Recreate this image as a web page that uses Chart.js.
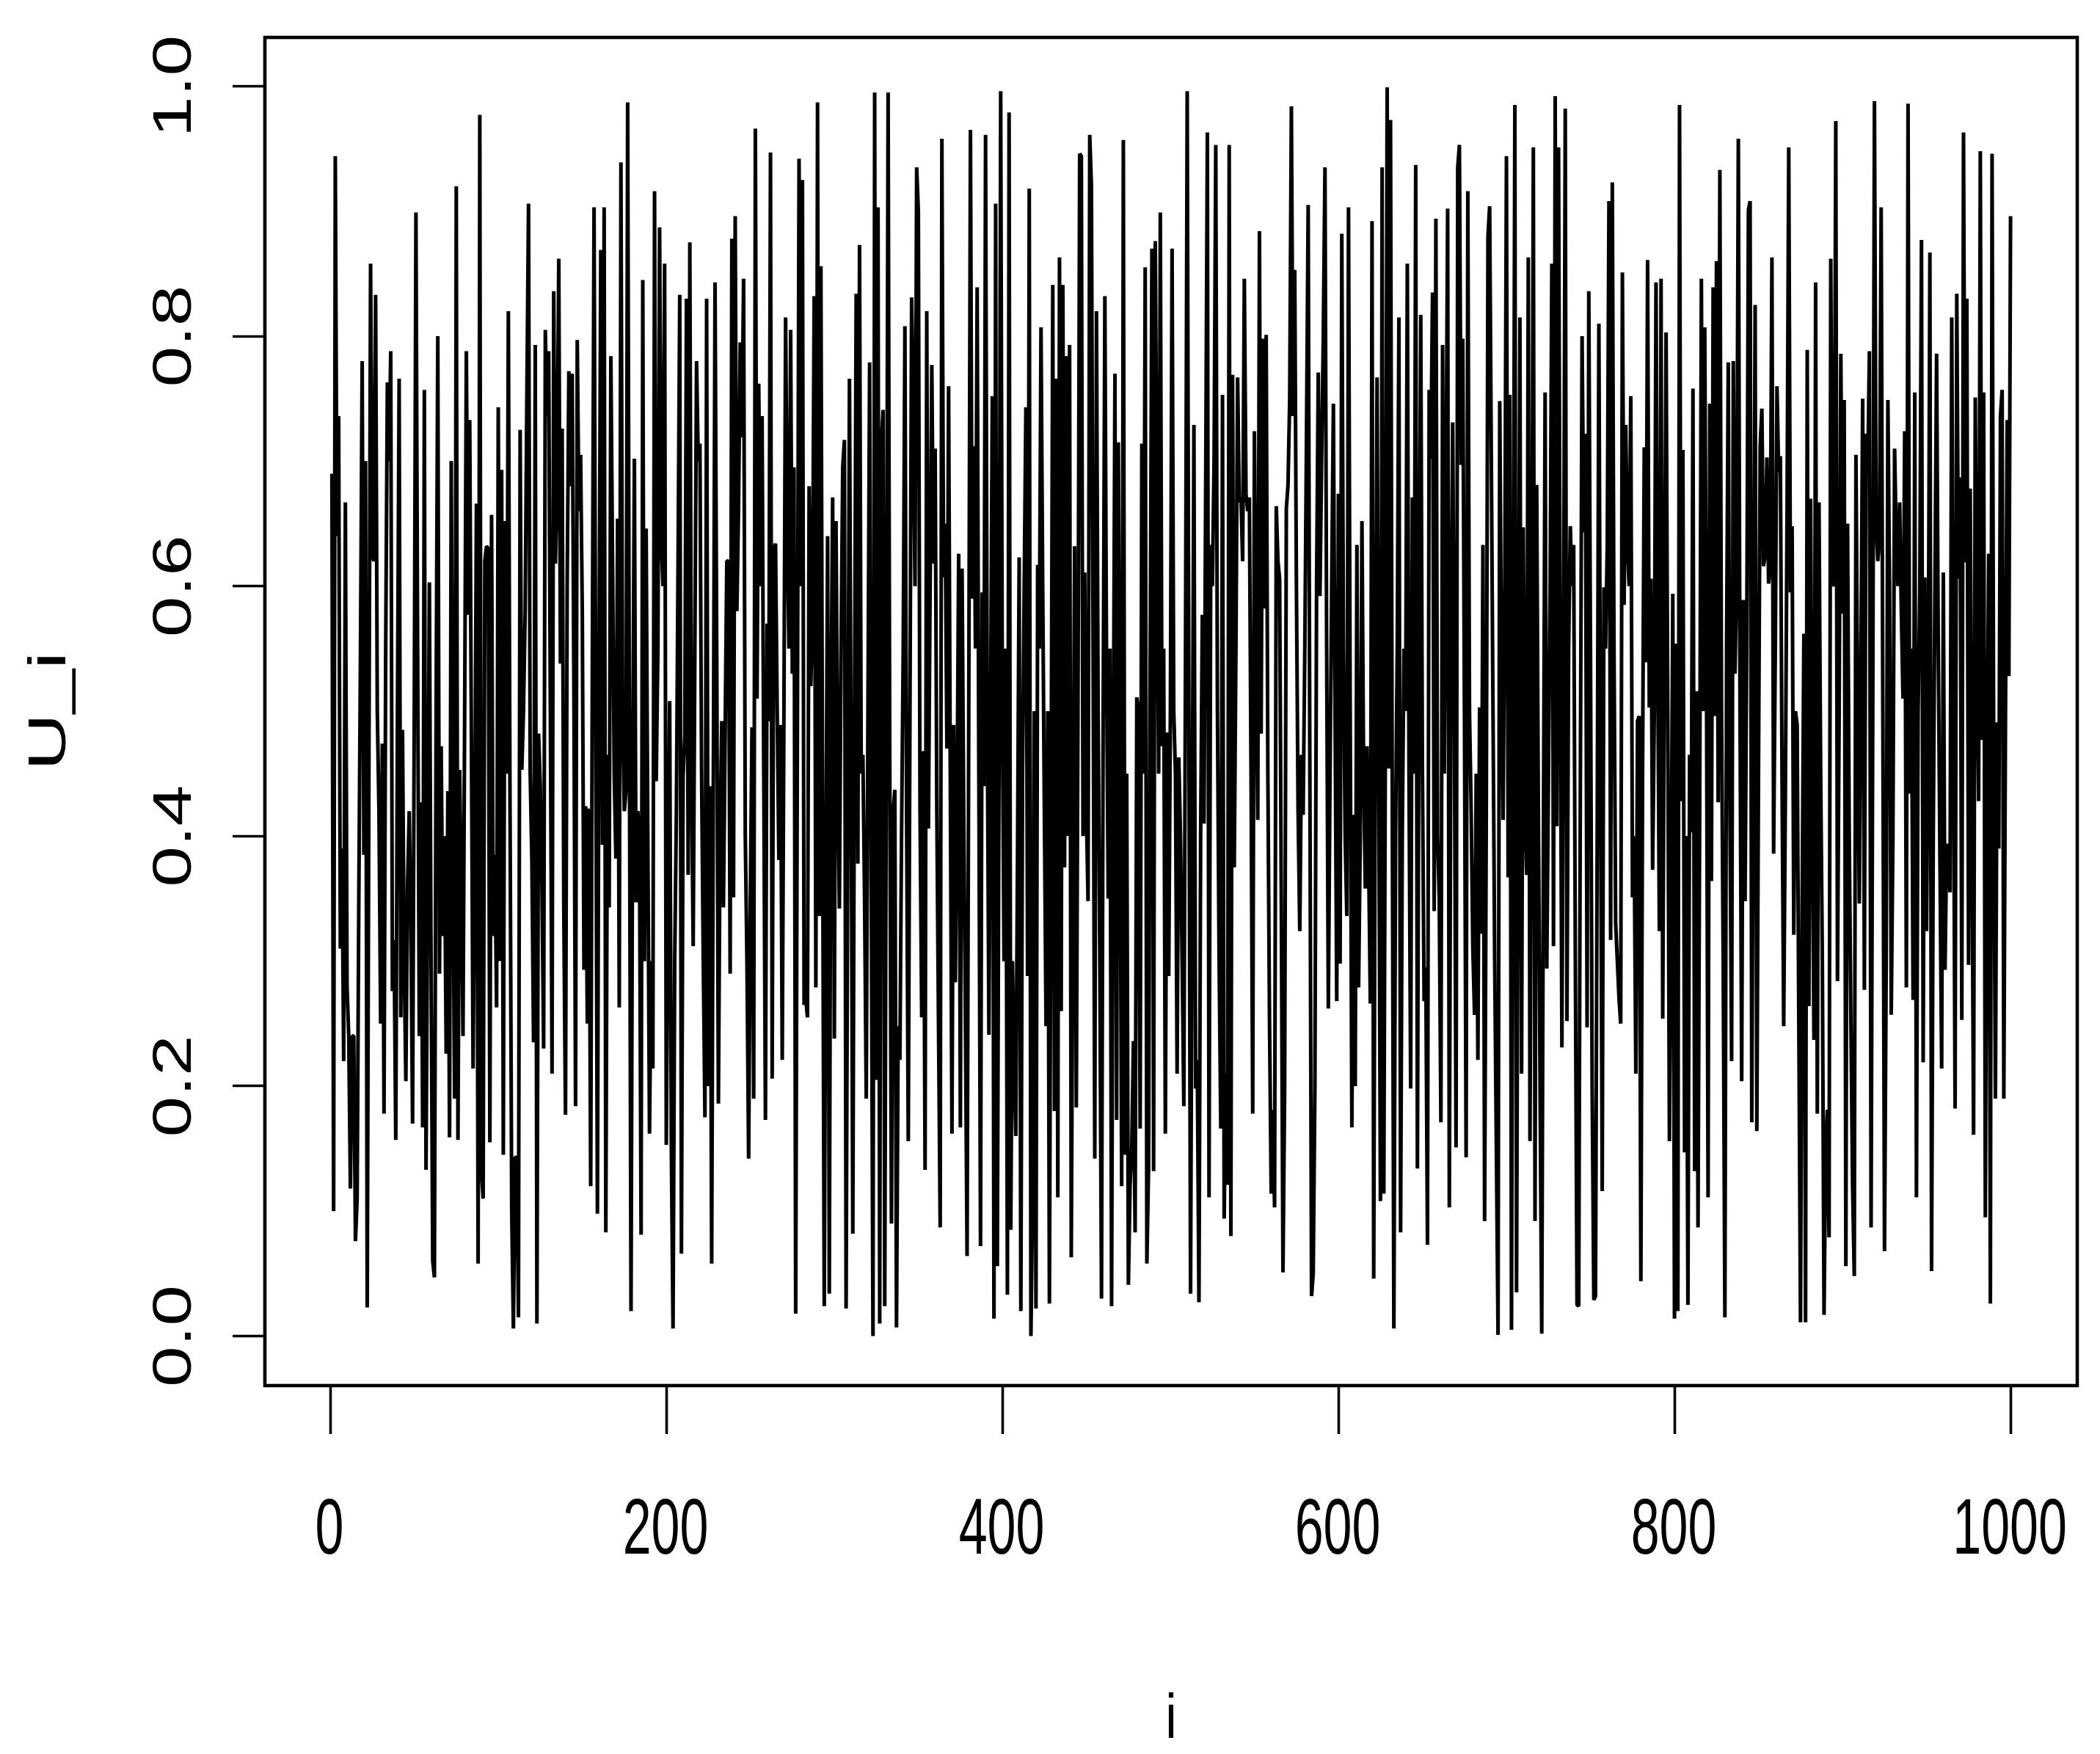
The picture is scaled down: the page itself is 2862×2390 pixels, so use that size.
<!DOCTYPE html>
<html><head><meta charset="utf-8">
<style>html,body{margin:0;padding:0;background:#fff}canvas{display:block}</style>
<script src="https://cdn.jsdelivr.net/npm/chart.js@4/dist/chart.umd.min.js"></script>
</head><body><canvas id="c" width="2862" height="2390"></canvas>
<script>
const xTickValues=[0,200,400,600,800,1000];
const yTickValues=[0,0.2,0.4,0.6,0.8,1];
const xTitle="i", yTitle="U_i";
const i1=[1,2,3,4,5,6,7,8,9,10,12,13,14,15,16,19,20,21,22,24,25,26,27,30,31,32,34,35,36,37,38,39,41,42,43,45,47,49,51,53,54,55,56,57,59,62,64,65,66,67,68,69,70,71,72,74,75,76,77,79,81,82,83,85,87,88,89,90,91,93,94,95,96,97,98,99,100,101,102,103,104,106,109,110,111,112,113,114,118,121,122,123,124,127,128,129,130,132,133,134,136,137,138,140,142,143,144,146,147,148,149,151,152,153,154,155,157,159,161,162,163,164,165,166,167,170,171,172,173,176,177,179,181,182,184,185,186,187,188,190,192,193,194,196,197,199,200,202,204,208,209,210,212,213,214,216,218,219,220,223,224,225,226,227,229,231];
const u1=[.69,.10,.944,.64,.736,.31,.39,.22,.667,.28,.118,.24,.24,.076,.11,.78,.385,.70,.023,.858,.625,.62,.833,.25,.474,.178,.763,.70,.788,.276,.317,.157,.766,.255,.485,.204,.42,.17,.899,.24,.427,.167,.757,.133,.603,.047,.80,.29,.472,.32,.40,.226,.436,.159,.70,.19,.92,.157,.453,.24,.788,.577,.733,.214,.666,.058,.977,.13,.11,.632,.63,.155,.657,.32,.385,.263,.743,.30,.693,.145,.652,.82,.006,.143,.143,.015,.725,.453,.906,.235,.793,.01,.482,.23,.805,.736,.788,.21,.836,.618,.862,.538,.726,.177,.772,.68,.77,.184,.797,.66,.705,.293,.424,.25,.422,.12,.903,.098,.869,.393,.903,.083,.465,.343,.784,.382,.654,.263,.939,.436,.987,.02,.702,.347,.405,.081,.845,.30,.646,.162,.214,.916,.444,.887,.637,.858,.153,.508,.006,.833,.066,.448,.83,.369,.875,.312,.78,.70,.714,.175,.83,.2,.44,.058,.843,.186];
const i2=[233,234,236,237,238,239,240,241,243,244,245,246,249,251,252,253,254,255,257,259,260,261,262,263,264,265,267,268,269,271,272,274,275,276,277,279,281,282,284,285,287,288,289,290,291,292,294,296,297,299,300,301,303,305,306,307,309,311,313,314,315,317,319,321,323,324,325,326,327,328,329,330,332,334,336,337,338,339,342,344,346,347,349,350,352,353,354,355,356,358,359,360,363,364,365,366,367,368,370,371,372,374,375,376,378,379,381,382,383,385,387,388,389,390,392,394,395,396,397,399,403,404,405,408,410,411,414,415,416,417,418,420,421,423,426,428,430,431,432,433,434,435,436,437,438,440,441,443,444,446,447,448,449,451,452,453,455,456,459,461,462,465,467,468,469,471,472,473,475,478,479,480,482,483,485,486,487,489,490,491,492,494,495,497,498,499,501];
const u2=[.492,.343,.62,.62,.29,.878,.351,.896,.664,.795,.719,.846,.142,.487,.19,.966,.51,.762,.736,.173,.57,.492,.947,.206,.63,.634,.381,.489,.221,.815,.638,.805,.53,.695,.018,.942,.925,.265,.255,.68,.578,.832,.279,.987,.336,.856,.024,.64,.034,.671,.238,.652,.342,.695,.717,.022,.766,.082,.834,.378,.873,.465,.19,.779,0,.995,.205,.903,.01,.715,.741,.024,.995,.09,.437,.007,.248,.221,.808,.156,.831,.746,.935,.9,.255,.468,.133,.82,.406,.777,.618,.71,.087,.958,.607,.65,.47,.76,.162,.489,.283,.626,.167,.614,.255,.064,.965,.59,.712,.839,.072,.595,.44,.961,.241,.752,.014,.906,.056,.996,.033,.979,.085,.16,.623,.02,.743,.288,.918,0,.115,.022,.617,.807,.248,.026,.841,.18,.766,.111,.863,.26,.841,.375,.784,.793,.063,.632,.183,.946,.944,.40,.611,.348,.961,.92,.142,.82,.03,.832,.537,.024,.77,.173,.715,.12,.957,.145,.041,.236,.083,.511,.166,.714,.855,.058,.135,.87,.132,.876,.664,.899,.472,.162,.483,.288,.87];
const i3=[504,505,508,510,512,514,515,516,517,519,520,522,523,524,527,530,531,532,533,534,535,536,537,538,540,541,542,544,545,547,549,550,552,553,554,555,556,557,560,561,562,563,565,567,569,570,572,573,574,577,578,579,582,584,585,588,589,592,594,597,599,600,601,602,605,606,608,609,610,611,612,614,616,617,619,620,621,623,625,626,627,629,630,631,633,636,637,641,643,644,646,647,649,651,652,653,654,655,656,657,658,661,662,664,665,666,668,670,671,672,673,674,676,677,680,681,683,684,685,686,687,689,690,695,696,698,700,701,702,703,705,706,708,709,710,712,713,714,716,717,718,721,723,724,727,728,729,730,731,733,735,736,738,740,742,743,745,746,747,748,749,752,753,755,757,758,760,761,762,763,765,768,769,770,771,772];
const u3=[.21,.463,.184,.996,.034,.729,.198,.221,.027,.577,.41,.963,.111,.633,.953,.166,.753,.094,.21,.121,.953,.08,.769,.375,.767,.667,.671,.846,.674,.671,.178,.724,.413,.884,.482,.798,.582,.801,.114,.181,.103,.664,.606,.051,.662,.681,.984,.736,.853,.324,.465,.417,.905,.032,.05,.771,.592,.935,.262,.746,.268,.674,.298,.882,.336,.903,.167,.417,.2,.633,.279,.652,.358,.472,.266,.892,.046,.767,.108,.935,.114,.999,.454,.973,.006,.815,.083,.858,.198,.671,.937,.134,.817,.268,.295,.073,.757,.702,.835,.34,.894,.171,.793,.659,.902,.103,.731,.151,.935,.953,.697,.798,.143,.916,.31,.257,.221,.503,.322,.633,.092,.88,.904,.001,.748,.413,.944,.367,.753,.005,.985,.035,.815,.21,.647,.369,.863,.156,.951,.092,.681,.002,.755,.294,.858,.312,.992,.408,.951,.231,.982,.252,.648,.633,.025,.024,.8,.643,.722,.247,.836,.029,.032,.81,.116,.599,.633,.908,.317,.923,.33,.25,.851,.585,.729,.633];
const i4=[774,775,777,778,779,780,782,783,784,785,786,787,789,791,792,793,795,797,799,800,801,802,803,804,805,806,808,809,810,811,812,813,814,816,818,820,821,822,823,824,825,826,827,830,832,834,835,836,838,840,841,842,844,845,846,848,849,851,852,853,854,855,856,858,859,861,862,863,865,866,867,868,869,870,871,873,875,877,878,879,880,881,883,884,885,886,889,891,892,893,894,896,897,899,900,901,902,903,907,908,910,912,913,914,915,916,917,919,920,922,923,925,927,929,931,932,934,936,937,938,939,940,942,943,944,947,948,949,950,952,953,956,959,960,961,962,964,965,967,968,969,970,971,972,973,974,975,976,978,979,981,982,983,984,985,987,988,989,991,992,993,994,995,996,998,999,1000];
const u4=[.752,.351,.21,.492,.496,.044,.711,.539,.861,.503,.606,.373,.843,.324,.846,.254,.803,.156,.594,.014,.554,.02,.985,.428,.709,.147,.025,.465,.403,.758,.132,.516,.087,.846,.807,.111,.746,.364,.839,.496,.86,.427,.933,.015,.779,.22,.78,.53,.958,.204,.589,.348,.901,.908,.171,.825,.164,.712,.742,.616,.626,.703,.602,.863,.386,.76,.691,.704,.248,.434,.661,.951,.595,.648,.321,.489,.011,.562,.011,.789,.264,.67,.237,.843,.178,.667,.017,.181,.079,.862,.604,.972,.284,.786,.578,.749,.056,.65,.048,.705,.346,.75,.277,.722,.69,.788,.087,.988,.65,.639,.903,.068,.749,.257,.71,.637,.667,.51,.724,.279,.986,.434,.269,.755,.111,.877,.219,.607,.324,.867,.052,.786,.214,.611,.293,.394,.355,.815,.182,.834,.606,.687,.253,.963,.619,.83,.297,.678,.161,.751,.428,.948,.477,.755,.095,.626,.026,.946,.19,.491,.39,.736,.757,.19,.733,.528,.896];
// estimates for samples hidden inside the dark mass of the trace
const iHidden=[11,17,18,23,28,29,33,40,44,46,48,50,52,58,60,61,63,73,78,80,84,86,92,105,107,108,115,116,117,119,120,125,126,131,135,139,141,145,150,156,158,160,168,169,174,175,178,180,183,189,191,195,198,201,203,205,206,207,211,215,217,221,222,228,230,232,
235,242,247,248,250,256,258,266,270,273,278,280,283,286,293,295,298,302,304,308,310,312,316,318,320,322,331,333,335,340,341,343,345,348,351,357,361,362,369,373,377,380,384,386,391,393,398,400,401,402,406,407,409,412,413,419,422,424,425,427,429,439,442,445,450,454,457,458,460,463,464,466,470,474,476,477,481,484,488,493,496,500,502,503,
506,507,509,511,513,518,521,525,526,528,529,539,543,546,548,551,558,559,564,566,568,571,575,576,580,581,583,586,587,590,591,593,595,596,598,603,604,607,613,615,618,622,624,628,632,634,635,638,639,640,642,645,648,650,659,660,663,667,669,675,678,679,682,688,691,692,693,694,697,699,704,707,711,715,719,720,722,725,726,732,734,737,739,741,744,750,751,754,756,759,764,766,767,
773,776,781,788,790,794,796,798,807,815,817,819,828,829,831,833,837,839,843,847,850,857,860,864,872,874,876,882,887,888,890,895,898,904,905,906,909,911,918,921,924,926,928,930,933,935,941,945,946,951,954,955,957,958,963,966,977,980,986,990,997];
const uHidden=[.24,.35,.55,.45,.5,.42,.55,.5,.3,.36,.33,.5,.55,.36,.3,.06,.5,.38,.36,.5,.48,.4,.62,.45,.42,.1,.5,.58,.75,.45,.38,.44,.36,.5,.68,.34,.6,.52,.58,.55,.5,.55,.62,.45,.5,.42,.5,.45,.42,.4,.3,.55,.6,.35,.15,.3,.42,.62,.48,.45,.55,.45,.3,.45,.55,.4,
.48,.58,.4,.3,.35,.6,.45,.5,.5,.55,.48,.6,.27,.52,.42,.38,.5,.45,.55,.4,.45,.5,.45,.35,.5,.35,.5,.45,.42,.4,.55,.42,.5,.6,.42,.6,.42,.25,.45,.42,.42,.5,.55,.45,.5,.5,.45,.5,.3,.55,.3,.22,.38,.45,.6,.5,.55,.6,.42,.5,.42,.4,.35,.5,.42,.55,.5,.3,.5,.35,.55,.45,.45,.45,.12,.15,.5,.45,.55,.45,.55,.5,.5,.45,
.4,.3,.55,.5,.4,.4,.68,.6,.7,.5,.3,.55,.62,.66,.45,.55,.45,.25,.62,.35,.2,.75,.6,.42,.55,.72,.45,.2,.6,.7,.8,.55,.45,.6,.5,.55,.4,.5,.4,.45,.38,.5,.45,.5,.45,.4,.55,.4,.55,.5,.45,.45,.55,.45,.4,.35,.45,.55,.5,.5,.5,.42,.45,.42,.7,.5,.3,.15,.55,.6,.5,.45,.42,.5,.42,.2,.4,.45,.6,.55,.55,.55,.6,.3,.45,.55,.2,.4,.45,.55,.55,.3,.27,
.6,.4,.45,.5,.55,.55,.5,.35,.4,.42,.5,.55,.5,.3,.55,.42,.6,.5,.55,.5,.45,.62,.55,.45,.5,.25,.35,.42,.45,.3,.15,.6,.5,.4,.25,.12,.5,.55,.5,.62,.5,.3,.6,.4,.6,.58,.55,.5,.6,.5,.4,.6,.55,.38,.38,.5,.42,.55,.45,.45,.5];
const groups=[[i1,u1],[i2,u2],[i3,u3],[i4,u4],[iHidden,uHidden]];
groups.forEach((g,k)=>{if(g[0].length!==g[1].length)throw new Error("len "+k+" "+g[0].length+" "+g[1].length);});
const points=[];
groups.forEach(g=>g[0].forEach((x,n)=>points.push({x:x,y:g[1][n]})));
points.sort((a,b)=>a.x-b.x);

const FONT='"Liberation Sans", Arial, sans-serif';
function stretched(ctx,text,x,y,sx,sy,rot){
  ctx.save();ctx.translate(x,y);if(rot)ctx.rotate(-Math.PI/2);ctx.scale(sx,sy);
  ctx.font='100px '+FONT;ctx.textAlign='center';ctx.textBaseline='alphabetic';ctx.fillStyle='#000';
  ctx.fillText(text,0,0);ctx.restore();
}
const frameAndText={id:'frameAndText',afterDraw(chart){
  const c=chart.ctx,a=chart.chartArea,xs=chart.scales.x,ys=chart.scales.y;
  c.save();c.strokeStyle='#000';c.lineWidth=4.6;c.strokeRect(a.left,a.top,a.right-a.left,a.bottom-a.top);c.restore();
  xTickValues.forEach(v=>stretched(c,String(v),xs.getPixelForValue(v)-1,2117,.70,1.08,false));
  yTickValues.forEach(v=>stretched(c,v.toFixed(1),260,ys.getPixelForValue(v),1.0,.75,true));
  stretched(c,xTitle,(a.left+a.right)/2,2368,.7,.86,false);
  stretched(c,yTitle,89,969,1.08,.73,true);
}};
new Chart(document.getElementById('c'),{type:'line',
 data:{datasets:[{data:points,borderColor:'#000',borderWidth:5,pointRadius:0,tension:0,fill:false,borderJoinStyle:'bevel',normalized:true,parsing:false}]},
 plugins:[frameAndText],
 options:{responsive:false,animation:false,devicePixelRatio:1,
  layout:{padding:{top:51,right:31,left:0,bottom:0}},
  plugins:{legend:{display:false},tooltip:{enabled:false}},
  scales:{
   x:{type:'linear',min:-38.9,max:1039.7,afterBuildTicks(s){s.ticks=xTickValues.map(v=>({value:v}));},afterFit(s){s.height=2390-1888;},
      grid:{display:true,drawOnChartArea:false,drawTicks:true,tickLength:66,tickWidth:3.6,tickColor:'#000'},border:{display:false},ticks:{display:false}},
   y:{type:'linear',min:-0.0396,max:1.039,afterBuildTicks(s){s.ticks=yTickValues.map(v=>({value:v}));},afterFit(s){s.width=361;},
      grid:{display:true,drawOnChartArea:false,drawTicks:true,tickLength:44,tickWidth:3.6,tickColor:'#000'},border:{display:false},ticks:{display:false}}
  }}});
</script></body></html>
